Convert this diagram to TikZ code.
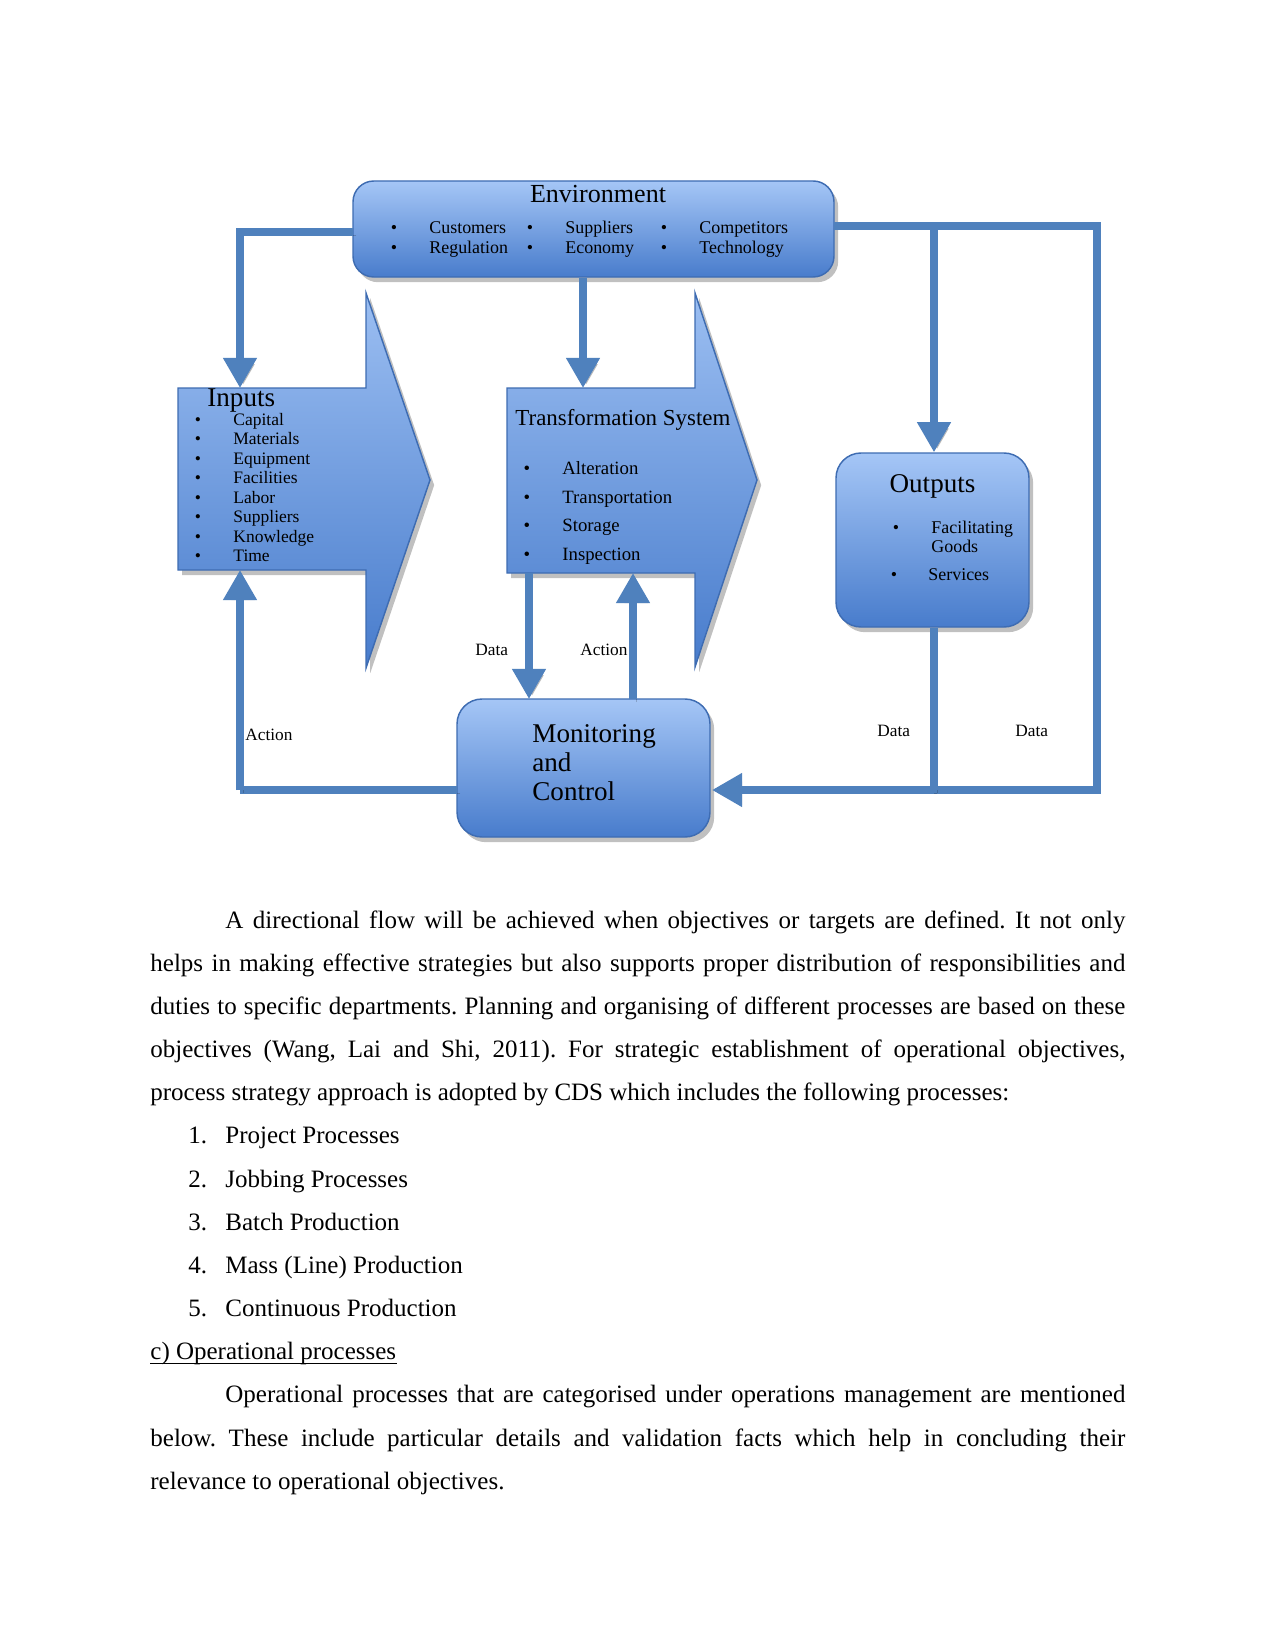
\documentclass[tikz,border=0pt]{standalone}
\usepackage{fontspec}
\setmainfont{Liberation Serif}
\usetikzlibrary{arrows.meta,shadows,fit,calc}
\definecolor{lineblue}{RGB}{79,129,189}
\definecolor{boxtop}{RGB}{165,198,246}
\definecolor{boxbot}{RGB}{72,124,204}
\definecolor{boxborder}{RGB}{62,108,178}
\newcommand{\fs}[1]{\fontsize{#1}{#1}\selectfont}
\begin{document}
\frenchspacing
\begin{tikzpicture}[x=0.48pt,y=-0.48pt,
  shade/.style={drop shadow={shadow xshift=2pt,shadow yshift=-2.5pt,opacity=0.35,fill=black!70}},
  box/.style={draw=boxborder,line width=0.7pt,top color=boxtop,bottom color=boxbot,shade,inner sep=0pt},
  bigarrow/.style={draw=boxborder,line width=0.7pt,top color=boxtop!90!boxbot,bottom color=boxbot,shade},
  lshadow/.style={preaction={draw=black,opacity=0.18,transform canvas={xshift=1.5pt,yshift=-1.5pt}}},
  plain/.style={draw=lineblue,line width=3.4pt,lshadow},
  flow/.style={plain,-{Triangle[width=15.5pt 0,length=14.5pt 0]}},
  ttl/.style={anchor=base,inner sep=0pt},
  itm/.style={anchor=base west,inner sep=0pt},
  bul/.style={anchor=base,inner sep=0pt},
  lbl/.style={anchor=base west,inner sep=0pt,font=\fs{8.3}},
  body/.style={anchor=base west,inner sep=0pt,font=\fontsize{12}{14}\selectfont\frenchspacing}
]
\useasboundingbox[fill=white] (0,0) rectangle (1275,1651);

% ---------- block arrows ----------
\path[bigarrow] (178,388) -- (366,388) -- (366,293) -- (430,480) -- (366,668) -- (366,570) -- (178,570) -- cycle;
\path[bigarrow] (507,388) -- (695,388) -- (695,293) -- (757,480) -- (695,667) -- (695,573) -- (507,573) -- cycle;
\node[fit={(178,388) (366,570)},inner sep=0pt] (inputs) {};
\node[fit={(507,388) (695,573)},inner sep=0pt] (transform) {};

% ---------- boxes ----------
\node[box,rounded corners=10pt,fit={(353,181) (834,277)}] (env) {};
\node[box,rounded corners=12pt,fit={(836,453) (1029,627)}] (outputs) {};
\node[box,rounded corners=12pt,fit={(457,699) (710,837)}] (monitor) {};

% ---------- connection points ----------
\coordinate (inTop) at (240,388);
\coordinate (inBot) at (240,570);
\coordinate (trTop) at (583,388);
\coordinate (trData) at (529,573);
\coordinate (trAct) at (633,573);
\coordinate (mcData) at (529,699);
\coordinate (mcAct) at (633,699);
\coordinate (mcW) at (457,790);
\coordinate (mcE) at (712,790);
\coordinate (envL) at (353,232);
\coordinate (envR) at (834,226);
\coordinate (rightTop) at (1097,226);
\coordinate (rightBot) at (1097,790);
\coordinate (brTop) at (934,226);
\coordinate (brBot) at (934,790);
\coordinate (leftBot) at (240,790);

% ---------- connectors ----------
\draw[flow] (envL) -| (inTop);
\draw[flow] (env.south -| trTop) -- (trTop);
\draw[plain] (envR) -- (rightTop) -- (rightBot) -- (brBot);
\draw[flow] (brBot) -- (mcE);
\draw[flow] (brTop) -- (outputs.north -| brTop);
\draw[plain] (outputs.south -| brTop) -- (brBot);
\draw[flow] (trData) -- (mcData);
\draw[flow] (mcAct) -- (trAct);
\draw[plain] (mcW) -- (leftBot);
\draw[flow] (leftBot) -- (inBot);

% ---------- Environment text ----------
\node[ttl,font=\fs{12.5}] (envT) at (598,203) {Environment};
\node[bul,font=\fs{8.6}] (eb1) at (394,234) {\textbullet};
\node[bul,font=\fs{8.6}] (eb2) at (394,254) {\textbullet};
\node[bul,font=\fs{8.6}] (eb3) at (530,234) {\textbullet};
\node[bul,font=\fs{8.6}] (eb4) at (530,254) {\textbullet};
\node[bul,font=\fs{8.6}] (eb5) at (664,234) {\textbullet};
\node[bul,font=\fs{8.6}] (eb6) at (664,254) {\textbullet};
\node[itm,font=\fs{8.6}] (e1) at (429,234) {Customers};
\node[itm,font=\fs{8.6}] (e2) at (429,254) {Regulation};
\node[itm,font=\fs{8.6}] (e3) at (565,234) {Suppliers};
\node[itm,font=\fs{8.6}] (e4) at (565,254) {Economy};
\node[itm,font=\fs{8.6}] (e5) at (699,234) {Competitors};
\node[itm,font=\fs{8.6}] (e6) at (699,254) {Technology};

% ---------- Inputs text ----------
\node[itm,font=\fs{13}] (inT) at (207,406) {Inputs};
\foreach \t [count=\k from 0] in {Capital,Materials,Equipment,Facilities,Labor,Suppliers,Knowledge,Time}{
  \node[bul,font=\fs{8.4}] (ib\k) at (198,425+19.5*\k) {\textbullet};
  \node[itm,font=\fs{8.4}] (ii\k) at (233,425+19.5*\k) {\t};
}

% ---------- Transformation text ----------
\node[itm,font=\fs{11}] (trT) at (515,425) {Transformation System};
\foreach \t/\yy [count=\k] in {Alteration/474,Transportation/503,Storage/531.5,Inspection/560}{
  \node[bul,font=\fs{9}] (tb\k) at (527,\yy) {\textbullet};
  \node[itm,font=\fs{9}] (ti\k) at (562,\yy) {\t};
}

% ---------- Outputs text ----------
\node[ttl,font=\fs{13}] (outT) at (932.5,492) {Outputs};
\node[bul,font=\fs{8.6}] (ob1) at (896,533) {\textbullet};
\node[itm,font=\fs{8.6}] (o1) at (931,533) {Facilitating};
\node[itm,font=\fs{8.6}] (o2) at (931,552) {Goods};
\node[bul,font=\fs{8.6}] (ob2) at (894,580) {\textbullet};
\node[itm,font=\fs{8.6}] (o3) at (928,580) {Services};

% ---------- Monitoring text ----------
\node[itm,font=\fs{13}] (m1) at (532,742) {Monitoring};
\node[itm,font=\fs{13}] (m2) at (532,771) {and};
\node[itm,font=\fs{13}] (m3) at (532,800) {Control};

% ---------- labels ----------
\node[lbl] (ldata1) at (475,655) {Data};
\node[lbl] (lact1) at (580,655) {Action};
\node[lbl] (lact2) at (245,740) {Action};
\node[lbl] (ldata2) at (877,736) {Data};
\node[lbl] (ldata3) at (1015,736) {Data};

% ---------- body text ----------
\node[body] (p0) at (225,928) {\makebox[432pt][s]{A directional flow will be achieved when objectives or targets are defined. It not only}};
\node[body] (p1) at (150,971.2) {\makebox[468pt][s]{helps in making effective strategies but also supports proper distribution of responsibilities and}};
\node[body] (p2) at (150,1014.3) {\makebox[468pt][s]{duties to specific departments. Planning and organising of different processes are based on these}};
\node[body] (p3) at (150,1057.5) {\makebox[468pt][s]{objectives (Wang, Lai and Shi, 2011). For strategic establishment of operational objectives,}};
\node[body] (p4) at (150,1100.7) {process strategy approach is adopted by CDS which includes the following processes:};
\foreach \t [count=\k] in {Project Processes,Jobbing Processes,Batch Production,Mass (Line) Production,Continuous Production}{
  \node[body] (n\k) at (188,1100.7+43.17*\k) {\k.};
  \node[body] (l\k) at (225,1100.7+43.17*\k) {\t};
}
\node[body] (p10) at (150,1359.7) {c) Operational processes};
\draw[line width=0.55pt] ($(p10.base west)+(0,3.5)$) -- ($(p10.base east)+(0,3.5)$);
\node[body] (p11) at (225,1402.9) {\makebox[432pt][s]{Operational processes that are categorised under operations management are mentioned}};
\node[body] (p12) at (150,1446.0) {\makebox[468pt][s]{below. These include particular details and validation facts which help in concluding their}};
\node[body] (p13) at (150,1489.2) {relevance to operational objectives.};
\end{tikzpicture}
\end{document}
